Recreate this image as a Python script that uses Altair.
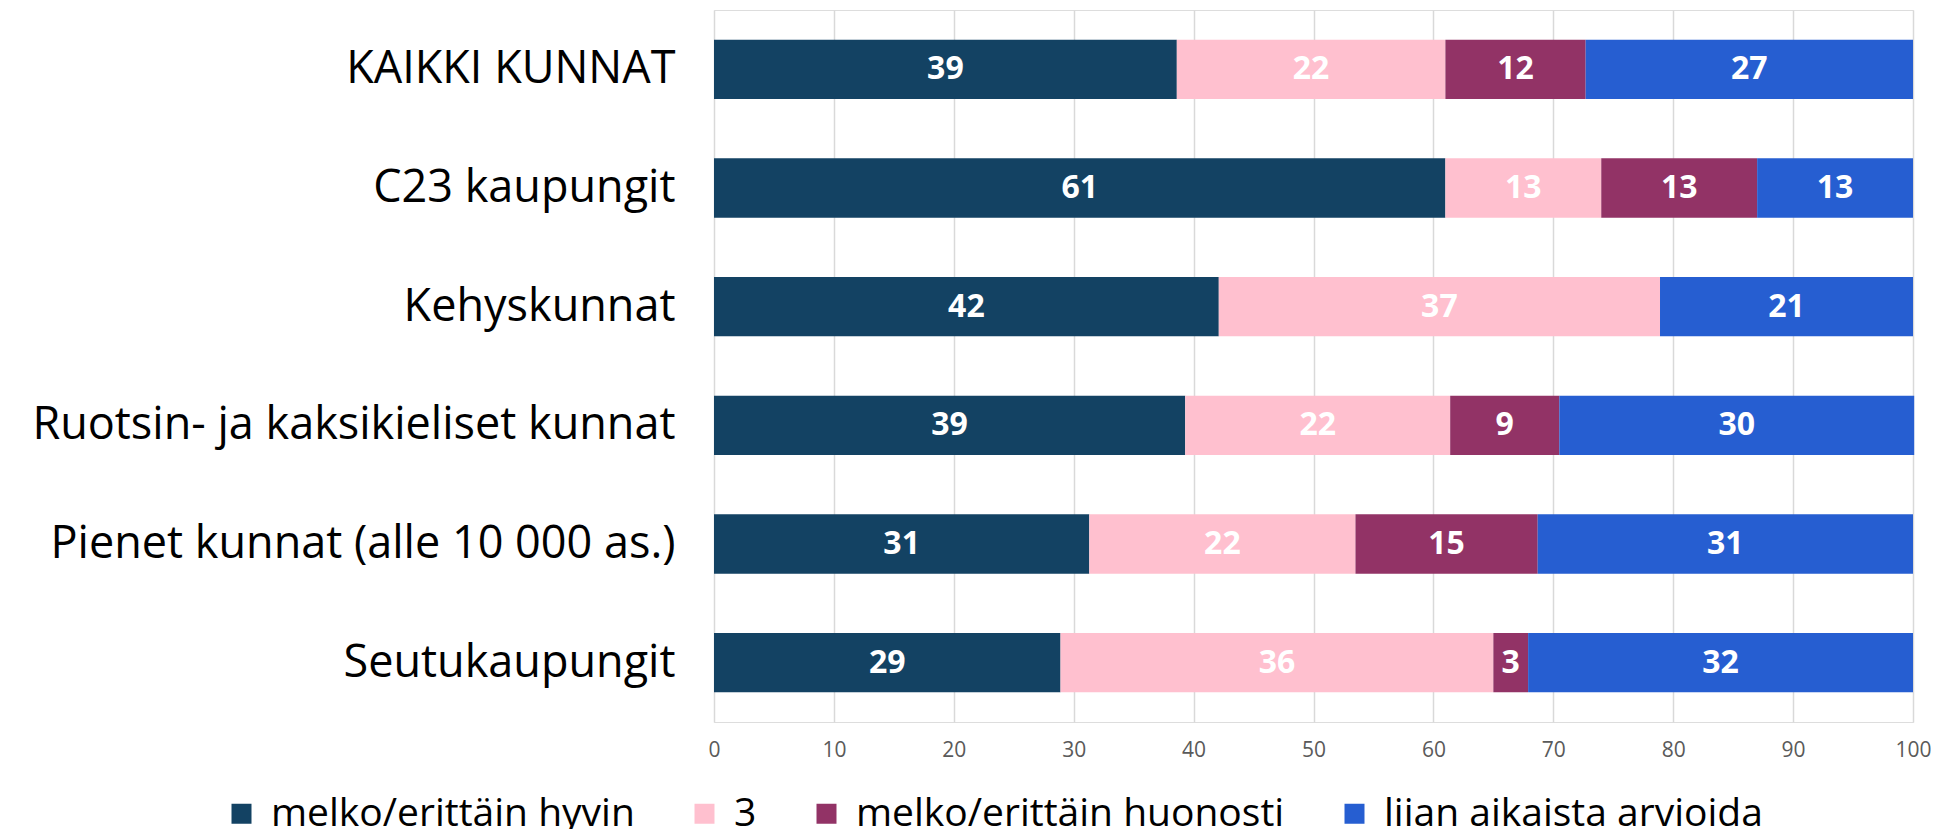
import altair as alt
import pandas as pd

categories = [
    "KAIKKI KUNNAT",
    "C23 kaupungit",
    "Kehyskunnat",
    "Ruotsin- ja kaksikieliset kunnat",
    "Pienet kunnat (alle 10 000 as.)",
    "Seutukaupungit",
]
series = [
    "melko/erittäin hyvin",
    "3",
    "melko/erittäin huonosti",
    "liian aikaista arvioida",
]
hyvin = [38.6, 61.0, 42.1, 39.3, 31.3, 28.9]
kolme = [22.4, 13.0, 36.8, 22.1, 22.2, 36.1]
huonosti = [11.7, 13.0, 0.0, 9.1, 15.2, 2.9]
aikaista = [27.3, 13.0, 21.1, 29.6, 31.3, 32.1]
colors = ["#134263", "#FFC0CF", "#923366", "#265ED1"]
x_ticks = [0, 10, 20, 30, 40, 50, 60, 70, 80, 90, 100]

rows = []
for s_i, (name, vals) in enumerate(zip(series, [hyvin, kolme, huonosti, aikaista])):
    for c, v in zip(categories, vals):
        rows.append({"category": c, "series": name, "order": s_i, "value": v})
df = pd.DataFrame(rows)

FONT = "Open Sans"

base = alt.Chart(df).transform_stack(
    stack="value",
    groupby=["category"],
    as_=["x0", "x1"],
    sort=[alt.SortField("order", order="ascending")],
)

y_enc = alt.Y(
    "category:N",
    sort=categories,
    title=None,
    scale=alt.Scale(paddingInner=0.5, paddingOuter=0.25),
    axis=alt.Axis(
        labelFont=FONT,
        labelFontSize=45,
        labelColor="#000000",
        labelLimit=1000,
        labelPadding=39,
        ticks=False,
        domain=False,
    ),
)

bars = base.mark_bar().encode(
    x=alt.X(
        "x0:Q",
        title=None,
        scale=alt.Scale(domain=[0, 100], nice=False),
        axis=alt.Axis(
            values=x_ticks,
            grid=True,
            gridColor="#d9d9d9",
            gridWidth=1.5,
            domain=False,
            ticks=False,
            labelFont=FONT,
            labelFontSize=21,
            labelColor="#5a5a5a",
            labelPadding=17,
            labelFlush=False,
            labelOverlap=False,
        ),
    ),
    x2="x1:Q",
    y=y_enc,
    color=alt.Color(
        "series:N",
        scale=alt.Scale(domain=series, range=colors),
        legend=alt.Legend(
            title=None,
            orient="none",
            legendX=-492,
            legendY=784,
            direction="horizontal",
            symbolType="square",
            symbolSize=400,
            symbolStrokeWidth=0,
            labelFont=FONT,
            labelFontSize=39,
            labelColor="#000000",
            labelLimit=1000,
            labelOffset=10,
            columnPadding=50,
        ),
    ),
    order=alt.Order("order:Q"),
)

labels = (
    base.transform_filter("datum.value > 0")
    .transform_calculate(mid="(datum.x0 + datum.x1) / 2", lab="format(datum.value, '.0f')")
    .mark_text(color="white", font=FONT, fontWeight="bold", fontSize=32, baseline="middle", align="center")
    .encode(x="mid:Q", y=alt.Y("category:N", sort=categories), text="lab:N")
)

chart = (
    alt.layer(bars, labels)
    .properties(
        width=1199,
        height=712,
        autosize=alt.AutoSizeParams(type="none"),
        padding={"left": 706, "top": 2, "right": 18, "bottom": 115},
    )
    .configure_view(stroke=None)
    .configure(background="white")
)

chart.save("out.html", embed_options={"renderer": "svg", "actions": False})
